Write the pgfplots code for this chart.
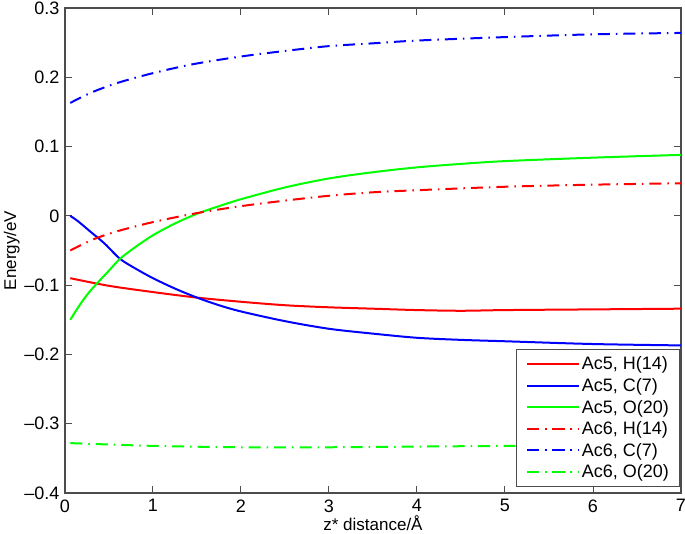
\documentclass[border=0pt]{standalone}
\usepackage{fontspec}
\setmainfont{Liberation Sans}
\usepackage{pgfplots}
\pgfplotsset{compat=1.18}
\begin{document}
\begin{tikzpicture}
\useasboundingbox (-65pt,-41pt) rectangle (620pt,493pt);
\begin{axis}[
  at={(0pt,0pt)}, anchor=south west,
  scale only axis, width=616pt, height=485pt,
  xmin=0, xmax=7, ymin=-0.4, ymax=0.3,
  xtick={0,1,...,7}, ytick={-0.4,-0.3,-0.2,-0.1,0,0.1,0.2,0.3},
  yticklabels={\textendash0.4,\textendash0.3,\textendash0.2,\textendash0.1,0,0.1,0.2,0.3},
  tick align=inside, tick pos=both,
  major tick length=7pt,
  axis line style={black!70, line width=1.2pt},
  tick style={black!70, line width=1pt},
  /pgf/number format/assume math mode=true,
  ticklabel style={font=\fontsize{18}{21}\selectfont},
  xticklabel style={yshift=-3pt},
  yticklabel style={xshift=-2pt},
  xlabel={z* distance/Å}, ylabel={Energy/eV},
  label style={font=\fontsize{17}{20}\selectfont},
  xlabel style={yshift=3pt},
  ylabel style={yshift=-2pt},
  legend style={at={(0.999,0.013)}, anchor=south east, draw=black!70, line width=1pt,
    font=\fontsize{18}{21}\selectfont, row sep=3pt, inner xsep=9pt, inner ysep=5pt},
  legend cell align=left,
  legend image code/.code={\draw[#1] plot coordinates {(0pt,0pt) (26pt,0pt) (52pt,0pt)};},
  every axis plot/.append style={line width=2pt, smooth},
]
\addplot[red] coordinates {(0.06,-0.090) (0.5,-0.101) (1,-0.110) (1.5,-0.118) (2,-0.124) (2.5,-0.129) (3,-0.132) (3.5,-0.134) (4,-0.136) (4.5,-0.137) (5,-0.136) (6,-0.135) (7,-0.134)};
\addlegendentry{Ac5, H(14)}
\addplot[blue] coordinates {(0.06,0.000) (0.15,-0.008) (0.3,-0.024) (0.45,-0.040) (0.625,-0.062) (0.8,-0.076) (1,-0.090) (1.25,-0.105) (1.5,-0.118) (1.75,-0.129) (2,-0.138) (2.5,-0.152) (3,-0.163) (3.5,-0.170) (4,-0.176) (4.5,-0.179) (5,-0.181) (6,-0.185) (7,-0.187)};
\addlegendentry{Ac5, C(7)}
\addplot[green] coordinates {(0.06,-0.150) (0.15,-0.132) (0.25,-0.114) (0.36,-0.098) (0.5,-0.079) (0.625,-0.062) (0.8,-0.045) (1,-0.028) (1.25,-0.011) (1.5,0.003) (1.75,0.014) (2,0.024) (2.5,0.041) (3,0.054) (3.5,0.063) (4,0.070) (4.5,0.075) (5,0.079) (6,0.084) (7,0.088)};
\addlegendentry{Ac5, O(20)}
\addplot[red, dash pattern=on 12pt off 6pt on 1.5pt off 6pt] coordinates {(0.06,-0.050) (0.32,-0.034) (0.6,-0.022) (1,-0.009) (1.5,0.004) (2,0.014) (2.5,0.022) (3,0.029) (3.5,0.034) (4,0.037) (5,0.042) (6,0.045) (7,0.047)};
\addlegendentry{Ac6, H(14)}
\addplot[blue, dash pattern=on 12pt off 6pt on 1.5pt off 6pt] coordinates {(0.06,0.163) (0.3,0.178) (0.6,0.192) (1,0.206) (1.46,0.219) (2,0.230) (2.5,0.238) (3,0.245) (3.5,0.249) (4,0.253) (5,0.258) (6,0.262) (7,0.264)};
\addlegendentry{Ac6, C(7)}
\addplot[green, dash pattern=on 12pt off 6pt on 1.5pt off 6pt] coordinates {(0.06,-0.328) (1,-0.332) (2,-0.334) (3,-0.334) (4,-0.333) (5,-0.332) (6,-0.331) (7,-0.330)};
\addlegendentry{Ac6, O(20)}
\end{axis}
\end{tikzpicture}
\end{document}
